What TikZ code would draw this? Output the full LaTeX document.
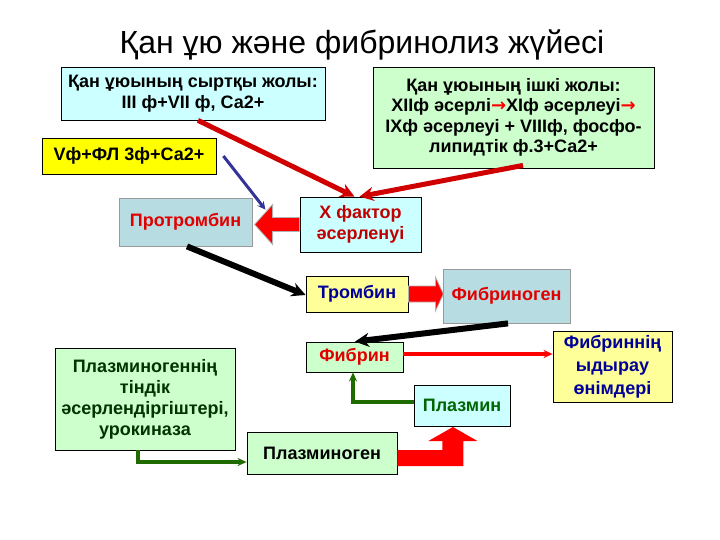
\documentclass[tikz,border=0pt]{standalone}
\usepackage{fontspec}
\setmainfont{Liberation Sans}
\newfontfamily\arrfont{DejaVu Sans}
\usetikzlibrary{arrows.meta, positioning}

\definecolor{cyanbox}{HTML}{CCFFFF}
\definecolor{greenbox}{HTML}{CCFFCC}
\definecolor{yellowbox}{HTML}{FFFF00}
\definecolor{paleyellow}{HTML}{FFFF99}
\definecolor{graybox}{HTML}{B7DDE3}
\definecolor{txtred}{HTML}{E00000}
\definecolor{txtdarkred}{HTML}{C00000}
\definecolor{txtblue}{HTML}{000099}
\definecolor{txtgreen}{HTML}{006600}
\definecolor{txtdkgreen}{HTML}{003300}
\definecolor{linered}{HTML}{D00000}
\definecolor{navy}{HTML}{333399}
\definecolor{linegreen}{HTML}{1F6B00}

\newcommand{\redarr}{\textcolor{red}{\arrfont\bfseries →}}

\begin{document}
\begin{tikzpicture}[
        x=1pt, y=-1pt,
        box/.style={rectangle, draw=black, line width=0.8pt, inner sep=0pt, align=center,
            font=\fontsize{18}{21}\selectfont\bfseries},
        graybx/.style={box, draw=gray!80, fill=graybox},
        arrow/.style={-{Stealth[length=14pt, width=14pt]}, line width=5pt},
        thin arrow/.style={-{Stealth[length=8pt, width=8pt]}, line width=3pt},
        thinline/.style={-{Stealth[length=9pt, width=8pt]}, line width=3.5pt},
        block/.style={fill=red, draw=gray!60, line width=0.8pt}
    ]
    \useasboundingbox (0,0) rectangle (720,540);
    \fill[white] (0,0) rectangle (720,540);

    % Title
    \node (title) [anchor=base, font=\fontsize{32}{36}\selectfont] at (362,54) {Қан ұю және фибринолиз жүйесі};

    % Coagulation
    \node (ext) [box, fill=cyanbox, minimum width=264pt, minimum height=53pt] at (193,93.5)
        {Қан ұюының сыртқы жолы:\\III ф+VII ф, Са2+};
    \node (intr) [box, fill=greenbox, minimum width=281pt, minimum height=101pt,
        font=\fontsize{18}{20.5}\selectfont\bfseries] at (513.5,117.5)
        {Қан ұюының ішкі жолы:\\XIIф әсерлі\redarr XIф әсерлеуі\redarr\\IXф әсерлеуі + VIIIф, фосфо-\\липидтік ф.3+Са2+};
    \node (vf) [box, fill=yellowbox, minimum width=174pt, minimum height=36pt] at (129,156)
        {Vф+ФЛ 3ф+Са2+};
    \node (prot) [graybx, text=txtred, minimum width=133pt, minimum height=48pt] at (185.5,222)
        {Протромбин};
    \node (xf) [box, fill=cyanbox, text=txtdarkred, minimum width=121pt, minimum height=55pt] at (360.5,224.5)
        {X фактор\\әсерленуі};
    \node (thr) [box, fill=paleyellow, text=txtblue, minimum width=102pt, minimum height=36pt] at (357,294)
        {Тромбин};
    \node (fbg) [graybx, text=txtred, minimum width=127pt, minimum height=54pt] at (506.5,296)
        {Фибриноген};

    % Fibrinolysis
    \node (fbn) [box, fill=greenbox, text=txtred, minimum width=97pt, minimum height=30pt] at (354.5,357)
        {Фибрин};
    \node (fdp) [box, fill=paleyellow, text=txtblue, minimum width=119pt, minimum height=71pt,
        font=\fontsize{18}{23}\selectfont\bfseries] at (612.5,366.5)
        {Фибриннің\\ыдырау\\өнімдері};
    \node (act) [box, fill=greenbox, text=txtdkgreen, minimum width=180pt, minimum height=102pt] at (145,399)
        {Плазминогеннің\\тіндік\\әсерлендіргіштері,\\урокиназа};
    \node (pln) [box, fill=cyanbox, text=txtgreen, minimum width=96pt, minimum height=41pt] at (462,405.5)
        {Плазмин};
    \node (plg) [box, fill=greenbox, minimum width=150pt, minimum height=42pt] at (322,453)
        {Плазминоген};

    % Arrows
    \draw [arrow, draw=linered] ([xshift=5pt]ext.south) -- ([xshift=-6pt]xf.north);
    \draw [arrow, draw=linered] ([xshift=9.5pt, yshift=3pt]intr.south) -- ([xshift=-1pt]xf.north);
    \draw [thin arrow, draw=navy] ([xshift=7pt]vf.east) -- ([xshift=13pt, yshift=-12pt]prot.north east);
    \draw [arrow, line width=6pt, draw=black] ([xshift=1.5pt]prot.south) -- ([yshift=-1pt]thr.west);
    \draw [arrow, line width=6pt, draw=black] ([xshift=1.5pt]fbg.south) -- ([xshift=0.5pt]fbn.north);
    \draw [thinline, draw=red] ([yshift=3pt]fbn.east) -- ([yshift=12.5pt]fdp.west);
    \draw [thinline, draw=linegreen] ([yshift=3.5pt]pln.west) -| ([xshift=-1.5pt]fbn.south);
    \draw [thinline, draw=linegreen] ([xshift=-7pt]act.south) |- ([yshift=-9pt]plg.west);

    % Block arrows
    \draw [block] (xf.west) ++(0,-7) -- ++(-27,0) -- ++(0,-13) -- ++(-18,20) -- ++(18,20) -- ++(0,-13) -- ++(27,0) -- cycle;
    \draw [block] (thr.east) ++(0,-8) -- ++(27,0) -- ++(0,-9) -- ++(8,17) -- ++(-8,17) -- ++(0,-9) -- ++(-27,0) -- cycle;
    \draw [block, draw=none] (plg.east) ++(0,-3) -- ++(45,0) -- ++(0,-9) -- ++(-14,0) -- ++(24.5,-14) -- ++(24.5,14) -- ++(-14,0) -- ++(0,25) -- ++(-66,0) -- cycle;
\end{tikzpicture}
\end{document}
